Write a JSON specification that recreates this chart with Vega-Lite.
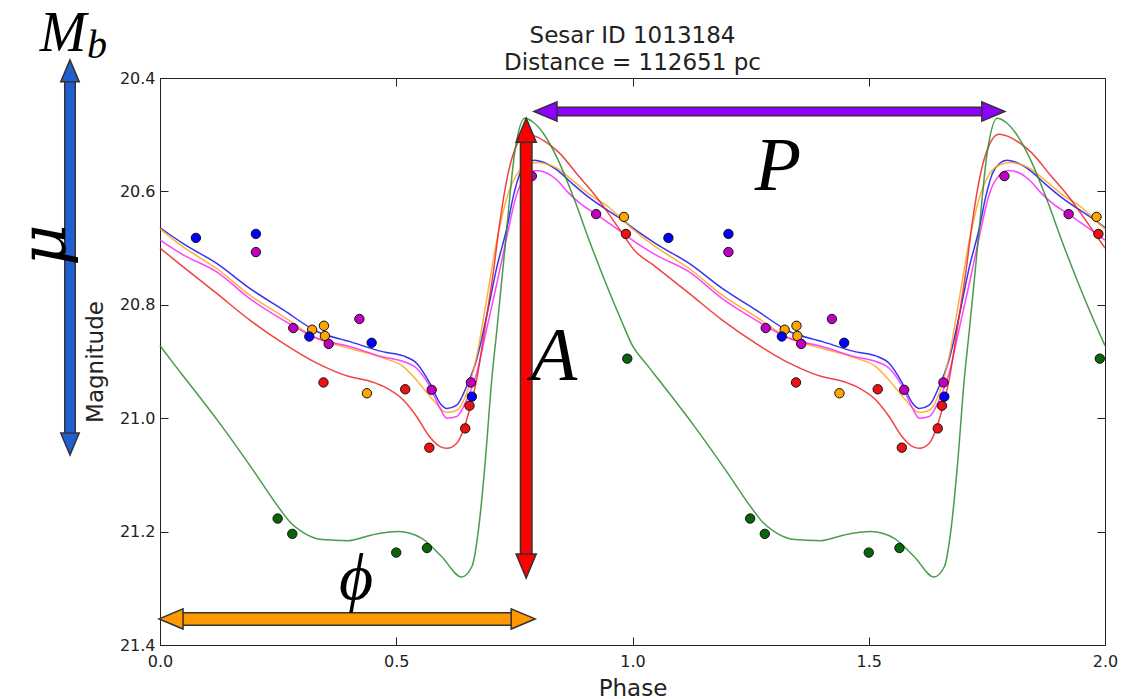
{
  "$schema": "https://vega.github.io/schema/vega-lite/v6.json",
  "width": 945,
  "height": 567,
  "autosize": "none",
  "padding": {"left": 160, "top": 78, "right": 17, "bottom": 54},
  "background": "white",
  "config": {"view": {"stroke": null}},
  "datasets": {
    "curves": [
      {"s":"b","p":0,"m":20.664},{"s":"b","p":0.049,"m":20.692},{"s":"b","p":0.12,"m":20.727},{"s":"b","p":0.19,"m":20.771},{"s":"b","p":0.261,"m":20.809},{"s":"b","p":0.332,"m":20.847},{"s":"b","p":0.402,"m":20.865},{"s":"b","p":0.473,"m":20.883},{"s":"b","p":0.515,"m":20.89},{"s":"b","p":0.543,"m":20.903},{"s":"b","p":0.571,"m":20.938},{"s":"b","p":0.593,"m":20.974},{"s":"b","p":0.607,"m":20.983},{"s":"b","p":0.628,"m":20.977},{"s":"b","p":0.649,"m":20.944},{"s":"b","p":0.67,"m":20.897},{"s":"b","p":0.691,"m":20.821},{"s":"b","p":0.713,"m":20.733},{"s":"b","p":0.734,"m":20.665},{"s":"b","p":0.748,"m":20.608},{"s":"b","p":0.762,"m":20.568},{"s":"b","p":0.778,"m":20.55},{"s":"b","p":0.792,"m":20.545},{"s":"b","p":0.81,"m":20.548},{"s":"b","p":0.84,"m":20.562},{"s":"b","p":0.875,"m":20.588},{"s":"b","p":0.91,"m":20.612},{"s":"b","p":0.95,"m":20.635},{"s":"b","p":0.981,"m":20.652},
      {"s":"b","p":1,"m":20.664},{"s":"b","p":1.049,"m":20.692},{"s":"b","p":1.12,"m":20.727},{"s":"b","p":1.19,"m":20.771},{"s":"b","p":1.261,"m":20.809},{"s":"b","p":1.332,"m":20.847},{"s":"b","p":1.402,"m":20.865},{"s":"b","p":1.473,"m":20.883},{"s":"b","p":1.515,"m":20.89},{"s":"b","p":1.543,"m":20.903},{"s":"b","p":1.571,"m":20.938},{"s":"b","p":1.593,"m":20.974},{"s":"b","p":1.607,"m":20.983},{"s":"b","p":1.628,"m":20.977},{"s":"b","p":1.649,"m":20.944},{"s":"b","p":1.67,"m":20.897},{"s":"b","p":1.691,"m":20.821},{"s":"b","p":1.713,"m":20.733},{"s":"b","p":1.734,"m":20.665},{"s":"b","p":1.748,"m":20.608},{"s":"b","p":1.762,"m":20.568},{"s":"b","p":1.778,"m":20.55},{"s":"b","p":1.792,"m":20.545},{"s":"b","p":1.81,"m":20.548},{"s":"b","p":1.84,"m":20.562},{"s":"b","p":1.875,"m":20.588},{"s":"b","p":1.91,"m":20.612},{"s":"b","p":1.95,"m":20.635},{"s":"b","p":1.981,"m":20.652},{"s":"b","p":2,"m":20.664},

      {"s":"o","p":0,"m":20.666},{"s":"o","p":0.049,"m":20.698},{"s":"o","p":0.12,"m":20.736},{"s":"o","p":0.19,"m":20.783},{"s":"o","p":0.261,"m":20.821},{"s":"o","p":0.332,"m":20.859},{"s":"o","p":0.402,"m":20.877},{"s":"o","p":0.473,"m":20.894},{"s":"o","p":0.515,"m":20.909},{"s":"o","p":0.543,"m":20.933},{"s":"o","p":0.578,"m":20.968},{"s":"o","p":0.607,"m":20.99},{"s":"o","p":0.628,"m":20.986},{"s":"o","p":0.649,"m":20.956},{"s":"o","p":0.67,"m":20.892},{"s":"o","p":0.691,"m":20.792},{"s":"o","p":0.713,"m":20.686},{"s":"o","p":0.734,"m":20.612},{"s":"o","p":0.755,"m":20.57},{"s":"o","p":0.778,"m":20.553},{"s":"o","p":0.8,"m":20.549},{"s":"o","p":0.82,"m":20.552},{"s":"o","p":0.84,"m":20.559},{"s":"o","p":0.875,"m":20.582},{"s":"o","p":0.91,"m":20.606},{"s":"o","p":0.95,"m":20.628},{"s":"o","p":0.981,"m":20.652},
      {"s":"o","p":1,"m":20.666},{"s":"o","p":1.049,"m":20.698},{"s":"o","p":1.12,"m":20.736},{"s":"o","p":1.19,"m":20.783},{"s":"o","p":1.261,"m":20.821},{"s":"o","p":1.332,"m":20.859},{"s":"o","p":1.402,"m":20.877},{"s":"o","p":1.473,"m":20.894},{"s":"o","p":1.515,"m":20.909},{"s":"o","p":1.543,"m":20.933},{"s":"o","p":1.578,"m":20.968},{"s":"o","p":1.607,"m":20.99},{"s":"o","p":1.628,"m":20.986},{"s":"o","p":1.649,"m":20.956},{"s":"o","p":1.67,"m":20.892},{"s":"o","p":1.691,"m":20.792},{"s":"o","p":1.713,"m":20.686},{"s":"o","p":1.734,"m":20.612},{"s":"o","p":1.755,"m":20.57},{"s":"o","p":1.778,"m":20.553},{"s":"o","p":1.8,"m":20.549},{"s":"o","p":1.82,"m":20.552},{"s":"o","p":1.84,"m":20.559},{"s":"o","p":1.875,"m":20.582},{"s":"o","p":1.91,"m":20.606},{"s":"o","p":1.95,"m":20.628},{"s":"o","p":1.981,"m":20.652},{"s":"o","p":2,"m":20.666},

      {"s":"m","p":0,"m":20.686},{"s":"m","p":0.049,"m":20.712},{"s":"m","p":0.12,"m":20.742},{"s":"m","p":0.19,"m":20.789},{"s":"m","p":0.261,"m":20.827},{"s":"m","p":0.332,"m":20.859},{"s":"m","p":0.402,"m":20.874},{"s":"m","p":0.473,"m":20.892},{"s":"m","p":0.515,"m":20.9},{"s":"m","p":0.543,"m":20.912},{"s":"m","p":0.571,"m":20.944},{"s":"m","p":0.593,"m":20.983},{"s":"m","p":0.607,"m":21.0},{"s":"m","p":0.628,"m":20.997},{"s":"m","p":0.649,"m":20.968},{"s":"m","p":0.67,"m":20.921},{"s":"m","p":0.691,"m":20.844},{"s":"m","p":0.713,"m":20.762},{"s":"m","p":0.734,"m":20.68},{"s":"m","p":0.755,"m":20.605},{"s":"m","p":0.776,"m":20.572},{"s":"m","p":0.797,"m":20.563},{"s":"m","p":0.82,"m":20.568},{"s":"m","p":0.84,"m":20.58},{"s":"m","p":0.865,"m":20.603},{"s":"m","p":0.889,"m":20.621},{"s":"m","p":0.924,"m":20.641},{"s":"m","p":0.95,"m":20.656},{"s":"m","p":0.981,"m":20.674},
      {"s":"m","p":1,"m":20.686},{"s":"m","p":1.049,"m":20.712},{"s":"m","p":1.12,"m":20.742},{"s":"m","p":1.19,"m":20.789},{"s":"m","p":1.261,"m":20.827},{"s":"m","p":1.332,"m":20.859},{"s":"m","p":1.402,"m":20.874},{"s":"m","p":1.473,"m":20.892},{"s":"m","p":1.515,"m":20.9},{"s":"m","p":1.543,"m":20.912},{"s":"m","p":1.571,"m":20.944},{"s":"m","p":1.593,"m":20.983},{"s":"m","p":1.607,"m":21.0},{"s":"m","p":1.628,"m":20.997},{"s":"m","p":1.649,"m":20.968},{"s":"m","p":1.67,"m":20.921},{"s":"m","p":1.691,"m":20.844},{"s":"m","p":1.713,"m":20.762},{"s":"m","p":1.734,"m":20.68},{"s":"m","p":1.755,"m":20.605},{"s":"m","p":1.776,"m":20.572},{"s":"m","p":1.797,"m":20.563},{"s":"m","p":1.82,"m":20.568},{"s":"m","p":1.84,"m":20.58},{"s":"m","p":1.865,"m":20.603},{"s":"m","p":1.889,"m":20.621},{"s":"m","p":1.924,"m":20.641},{"s":"m","p":1.95,"m":20.656},{"s":"m","p":1.981,"m":20.674},{"s":"m","p":2,"m":20.686},

      {"s":"r","p":0,"m":20.7},{"s":"r","p":0.049,"m":20.733},{"s":"r","p":0.12,"m":20.78},{"s":"r","p":0.19,"m":20.827},{"s":"r","p":0.261,"m":20.868},{"s":"r","p":0.332,"m":20.903},{"s":"r","p":0.402,"m":20.927},{"s":"r","p":0.437,"m":20.933},{"s":"r","p":0.473,"m":20.944},{"s":"r","p":0.515,"m":20.968},{"s":"r","p":0.543,"m":20.997},{"s":"r","p":0.571,"m":21.033},{"s":"r","p":0.593,"m":21.05},{"s":"r","p":0.607,"m":21.053},{"s":"r","p":0.628,"m":21.044},{"s":"r","p":0.649,"m":21.003},{"s":"r","p":0.67,"m":20.933},{"s":"r","p":0.691,"m":20.822},{"s":"r","p":0.705,"m":20.745},{"s":"r","p":0.72,"m":20.65},{"s":"r","p":0.735,"m":20.575},{"s":"r","p":0.755,"m":20.518},{"s":"r","p":0.775,"m":20.499},{"s":"r","p":0.795,"m":20.503},{"s":"r","p":0.82,"m":20.515},{"s":"r","p":0.845,"m":20.532},{"s":"r","p":0.885,"m":20.572},{"s":"r","p":0.919,"m":20.605},{"s":"r","p":0.95,"m":20.64},{"s":"r","p":0.985,"m":20.682},
      {"s":"r","p":1,"m":20.7},{"s":"r","p":1.049,"m":20.733},{"s":"r","p":1.12,"m":20.78},{"s":"r","p":1.19,"m":20.827},{"s":"r","p":1.261,"m":20.868},{"s":"r","p":1.332,"m":20.903},{"s":"r","p":1.402,"m":20.927},{"s":"r","p":1.437,"m":20.933},{"s":"r","p":1.473,"m":20.944},{"s":"r","p":1.515,"m":20.968},{"s":"r","p":1.543,"m":20.997},{"s":"r","p":1.571,"m":21.033},{"s":"r","p":1.593,"m":21.05},{"s":"r","p":1.607,"m":21.053},{"s":"r","p":1.628,"m":21.044},{"s":"r","p":1.649,"m":21.003},{"s":"r","p":1.67,"m":20.933},{"s":"r","p":1.691,"m":20.822},{"s":"r","p":1.705,"m":20.745},{"s":"r","p":1.72,"m":20.65},{"s":"r","p":1.735,"m":20.575},{"s":"r","p":1.755,"m":20.518},{"s":"r","p":1.775,"m":20.499},{"s":"r","p":1.795,"m":20.503},{"s":"r","p":1.82,"m":20.515},{"s":"r","p":1.845,"m":20.532},{"s":"r","p":1.885,"m":20.572},{"s":"r","p":1.919,"m":20.605},{"s":"r","p":1.95,"m":20.64},{"s":"r","p":1.985,"m":20.682},{"s":"r","p":2,"m":20.7},

      {"s":"g","p":0,"m":20.872},{"s":"g","p":0.03,"m":20.905},{"s":"g","p":0.06,"m":20.937},{"s":"g","p":0.13,"m":21.013},{"s":"g","p":0.2,"m":21.095},{"s":"g","p":0.25,"m":21.156},{"s":"g","p":0.275,"m":21.183},{"s":"g","p":0.3,"m":21.2},{"s":"g","p":0.342,"m":21.214},{"s":"g","p":0.399,"m":21.216},{"s":"g","p":0.448,"m":21.206},{"s":"g","p":0.504,"m":21.2},{"s":"g","p":0.554,"m":21.212},{"s":"g","p":0.596,"m":21.244},{"s":"g","p":0.638,"m":21.28},{"s":"g","p":0.66,"m":21.262},{"s":"g","p":0.674,"m":21.197},{"s":"g","p":0.688,"m":21.08},{"s":"g","p":0.702,"m":20.933},{"s":"g","p":0.713,"m":20.844},{"s":"g","p":0.73,"m":20.7},{"s":"g","p":0.751,"m":20.53},{"s":"g","p":0.772,"m":20.471},{"s":"g","p":0.79,"m":20.478},{"s":"g","p":0.81,"m":20.496},{"s":"g","p":0.84,"m":20.54},{"s":"g","p":0.875,"m":20.61},{"s":"g","p":0.91,"m":20.69},{"s":"g","p":0.945,"m":20.765},{"s":"g","p":0.975,"m":20.825},
      {"s":"g","p":1,"m":20.872},{"s":"g","p":1.03,"m":20.905},{"s":"g","p":1.06,"m":20.937},{"s":"g","p":1.13,"m":21.013},{"s":"g","p":1.2,"m":21.095},{"s":"g","p":1.25,"m":21.156},{"s":"g","p":1.275,"m":21.183},{"s":"g","p":1.3,"m":21.2},{"s":"g","p":1.342,"m":21.214},{"s":"g","p":1.399,"m":21.216},{"s":"g","p":1.448,"m":21.206},{"s":"g","p":1.504,"m":21.2},{"s":"g","p":1.554,"m":21.212},{"s":"g","p":1.596,"m":21.244},{"s":"g","p":1.638,"m":21.28},{"s":"g","p":1.66,"m":21.262},{"s":"g","p":1.674,"m":21.197},{"s":"g","p":1.688,"m":21.08},{"s":"g","p":1.702,"m":20.933},{"s":"g","p":1.713,"m":20.844},{"s":"g","p":1.73,"m":20.7},{"s":"g","p":1.751,"m":20.53},{"s":"g","p":1.772,"m":20.471},{"s":"g","p":1.79,"m":20.478},{"s":"g","p":1.81,"m":20.496},{"s":"g","p":1.84,"m":20.54},{"s":"g","p":1.875,"m":20.61},{"s":"g","p":1.91,"m":20.69},{"s":"g","p":1.945,"m":20.765},{"s":"g","p":1.975,"m":20.825},{"s":"g","p":2,"m":20.872}
    ],
    "obs": [
      {"s":"g","p":0.249,"m":21.177},{"s":"g","p":0.28,"m":21.204},{"s":"g","p":0.5,"m":21.237},{"s":"g","p":0.565,"m":21.229},{"s":"g","p":0.989,"m":20.895},
      {"s":"g","p":1.249,"m":21.177},{"s":"g","p":1.28,"m":21.204},{"s":"g","p":1.5,"m":21.237},{"s":"g","p":1.565,"m":21.229},{"s":"g","p":1.989,"m":20.895},
      {"s":"r","p":0.346,"m":20.937},{"s":"r","p":0.519,"m":20.949},{"s":"r","p":0.57,"m":21.052},{"s":"r","p":0.646,"m":21.018},{"s":"r","p":0.655,"m":20.978},{"s":"r","p":0.986,"m":20.675},
      {"s":"r","p":1.346,"m":20.937},{"s":"r","p":1.519,"m":20.949},{"s":"r","p":1.57,"m":21.052},{"s":"r","p":1.646,"m":21.018},{"s":"r","p":1.655,"m":20.978},{"s":"r","p":1.986,"m":20.675},
      {"s":"o","p":0.322,"m":20.844},{"s":"o","p":0.347,"m":20.837},{"s":"o","p":0.349,"m":20.855},{"s":"o","p":0.438,"m":20.956},{"s":"o","p":0.982,"m":20.645},
      {"s":"o","p":1.322,"m":20.844},{"s":"o","p":1.347,"m":20.837},{"s":"o","p":1.349,"m":20.855},{"s":"o","p":1.438,"m":20.956},{"s":"o","p":1.982,"m":20.645},
      {"s":"b","p":0.076,"m":20.682},{"s":"b","p":0.203,"m":20.675},{"s":"b","p":0.316,"m":20.856},{"s":"b","p":0.448,"m":20.867},{"s":"b","p":0.66,"m":20.962},
      {"s":"b","p":1.076,"m":20.682},{"s":"b","p":1.203,"m":20.675},{"s":"b","p":1.316,"m":20.856},{"s":"b","p":1.448,"m":20.867},{"s":"b","p":1.66,"m":20.962},
      {"s":"m","p":0.203,"m":20.707},{"s":"m","p":0.282,"m":20.841},{"s":"m","p":0.422,"m":20.825},{"s":"m","p":0.658,"m":20.937},{"s":"m","p":0.575,"m":20.95},{"s":"m","p":0.357,"m":20.869},{"s":"m","p":0.787,"m":20.573},{"s":"m","p":0.923,"m":20.64},
      {"s":"m","p":1.203,"m":20.707},{"s":"m","p":1.282,"m":20.841},{"s":"m","p":1.422,"m":20.825},{"s":"m","p":1.658,"m":20.937},{"s":"m","p":1.575,"m":20.95},{"s":"m","p":1.357,"m":20.869},{"s":"m","p":1.787,"m":20.573},{"s":"m","p":1.923,"m":20.64}
    ],
    "shafts": [
      {"a":"Mb","x1":-0.1905,"x2":-0.1905,"y1":20.4,"y2":21.033},
      {"a":"A","x1":0.775,"x2":0.775,"y1":20.505,"y2":21.248},
      {"a":"P","x1":0.832,"x2":1.747,"y1":20.459,"y2":20.459},
      {"a":"phi","x1":0.04,"x2":0.752,"y1":21.354,"y2":21.354}
    ],
    "heads": [
      {"a":"Mb","d":"up","x":-0.1905,"y":20.368},{"a":"Mb","d":"down","x":-0.1905,"y":21.065},
      {"a":"A","d":"up","x":0.775,"y":20.471},{"a":"A","d":"down","x":0.775,"y":21.282},
      {"a":"P","d":"left","x":0.7915,"y":20.459},{"a":"P","d":"right","x":1.788,"y":20.459},
      {"a":"phi","d":"left","x":-0.002,"y":21.354},{"a":"phi","d":"right","x":0.794,"y":21.354}
    ],
    "labels": [
      {"k":"M","t":"M","x":-0.2053,"y":20.352},
      {"k":"b","t":"b","x":-0.1333,"y":20.3647},
      {"k":"A","t":"A","x":0.834,"y":20.9326},
      {"k":"P","t":"P","x":1.308,"y":20.5975},
      {"k":"phi","t":"ϕ","x":0.4148,"y":21.318},
      {"k":"mu","t":"μ","x":-0.2413,"y":20.6945}
    ],
    "titles": [
      {"t":"Sesar ID 1013184","x":1.0,"y":20.3377},
      {"t":"Distance = 112651 pc","x":1.0,"y":20.3859}
    ]
  },
  "resolve": {
    "axis": {"x": "independent", "y": "independent"},
    "scale": {"color": "independent", "fill": "independent", "shape": "independent"}
  },
  "layer": [
    {
      "data": {"name": "curves"},
      "mark": {"type": "line", "strokeWidth": 1.5, "interpolate": "monotone", "opacity": 0.85},
      "encoding": {
        "x": {"field": "p", "type": "quantitative", "scale": {"domain": [0, 2], "nice": false, "zero": false},
              "axis": {"orient": "bottom", "values": [0, 0.5, 1, 1.5, 2], "format": ".1f", "grid": false, "tickSize": -8, "tickColor": "#222", "domainColor": "#222", "labelColor": "#222", "labelFont": "DejaVu Sans", "labelFontSize": 16, "labelPadding": 16, "labelFlush": false, "title": "Phase", "titleFont": "DejaVu Sans", "titleFontSize": 23, "titleFontWeight": "normal", "titleColor": "#222", "titlePadding": 8}},
        "y": {"field": "m", "type": "quantitative", "scale": {"domain": [20.4, 21.4], "reverse": true, "nice": false, "zero": false},
              "axis": {"orient": "left", "values": [20.4, 20.6, 20.8, 21.0, 21.2, 21.4], "format": ".1f", "grid": false, "tickSize": -8, "tickColor": "#222", "domainColor": "#222", "labelColor": "#222", "labelFont": "DejaVu Sans", "labelFontSize": 16, "labelPadding": 13, "labelFlush": false, "title": "Magnitude", "titleFont": "DejaVu Sans", "titleFontSize": 23, "titleFontWeight": "normal", "titleColor": "#222", "titlePadding": 12}},
        "color": {"field": "s", "type": "nominal", "legend": null, "scale": {"domain": ["b", "o", "m", "r", "g"], "range": ["#1010ee", "#ffa31a", "#ff22ff", "#ee2222", "#2a8a2a"]}}
      }
    },
    {
      "data": {"name": "obs"},
      "mark": {"type": "circle", "size": 88, "stroke": "#111", "strokeWidth": 1, "opacity": 1},
      "encoding": {
        "x": {"field": "p", "type": "quantitative", "scale": {"domain": [0, 2], "nice": false, "zero": false},
              "axis": {"orient": "top", "values": [0, 0.5, 1, 1.5, 2], "labels": false, "grid": false, "tickSize": -8, "tickColor": "#222", "domainColor": "#222", "title": null}},
        "y": {"field": "m", "type": "quantitative", "scale": {"domain": [20.4, 21.4], "reverse": true, "nice": false, "zero": false},
              "axis": {"orient": "right", "values": [20.4, 20.6, 20.8, 21.0, 21.2, 21.4], "labels": false, "grid": false, "tickSize": -8, "tickColor": "#222", "domainColor": "#222", "title": null}},
        "fill": {"field": "s", "type": "nominal", "legend": null, "scale": {"domain": ["b", "o", "m", "r", "g"], "range": ["#0000ff", "#ffa500", "#c000c0", "#ee1111", "#0a640a"]}}
      }
    },
    {
      "data": {"name": "shafts"},
      "transform": [{"filter": "datum.a == 'Mb'"}],
      "mark": {"type": "rule", "stroke": "#333333", "strokeCap": "butt", "strokeWidth": 12},
      "encoding": {"x": {"field": "x1", "type": "quantitative", "axis": null}, "x2": {"field": "x2"}, "y": {"field": "y1", "type": "quantitative", "axis": null}, "y2": {"field": "y2"}}
    },
    {
      "data": {"name": "shafts"},
      "transform": [{"filter": "datum.a == 'Mb'"}],
      "mark": {"type": "rule", "stroke": "#1f5fd0", "strokeCap": "butt", "strokeWidth": 9},
      "encoding": {"x": {"field": "x1", "type": "quantitative", "axis": null}, "x2": {"field": "x2"}, "y": {"field": "y1", "type": "quantitative", "axis": null}, "y2": {"field": "y2"}}
    },
    {
      "data": {"name": "heads"},
      "transform": [{"filter": "datum.a == 'Mb'"}],
      "mark": {"type": "point", "filled": true, "fill": "#1f5fd0", "stroke": "#333333", "strokeWidth": 1.5, "opacity": 1, "size": 1936},
      "encoding": {
        "x": {"field": "x", "type": "quantitative", "axis": null}, "y": {"field": "y", "type": "quantitative", "axis": null},
        "shape": {"field": "d", "type": "nominal", "legend": null, "scale": {"domain": ["up", "down", "left", "right"], "range": ["M0,0 L-0.42,1 L0.42,1 Z", "M0,0 L-0.42,-1 L0.42,-1 Z", "M0,0 L1,-0.42 L1,0.42 Z", "M0,0 L-1,-0.42 L-1,0.42 Z"]}}
      }
    },
    {
      "data": {"name": "shafts"},
      "transform": [{"filter": "datum.a == 'A'"}],
      "mark": {"type": "rule", "stroke": "#333333", "strokeCap": "butt", "strokeWidth": 13},
      "encoding": {"x": {"field": "x1", "type": "quantitative", "axis": null}, "x2": {"field": "x2"}, "y": {"field": "y1", "type": "quantitative", "axis": null}, "y2": {"field": "y2"}}
    },
    {
      "data": {"name": "shafts"},
      "transform": [{"filter": "datum.a == 'A'"}],
      "mark": {"type": "rule", "stroke": "#ff0000", "strokeCap": "butt", "strokeWidth": 10},
      "encoding": {"x": {"field": "x1", "type": "quantitative", "axis": null}, "x2": {"field": "x2"}, "y": {"field": "y1", "type": "quantitative", "axis": null}, "y2": {"field": "y2"}}
    },
    {
      "data": {"name": "heads"},
      "transform": [{"filter": "datum.a == 'A'"}],
      "mark": {"type": "point", "filled": true, "fill": "#ff0000", "stroke": "#333333", "strokeWidth": 1.5, "opacity": 1, "size": 2304},
      "encoding": {
        "x": {"field": "x", "type": "quantitative", "axis": null}, "y": {"field": "y", "type": "quantitative", "axis": null},
        "shape": {"field": "d", "type": "nominal", "legend": null, "scale": {"domain": ["up", "down", "left", "right"], "range": ["M0,0 L-0.42,1 L0.42,1 Z", "M0,0 L-0.42,-1 L0.42,-1 Z", "M0,0 L1,-0.42 L1,0.42 Z", "M0,0 L-1,-0.42 L-1,0.42 Z"]}}
      }
    },
    {
      "data": {"name": "shafts"},
      "transform": [{"filter": "datum.a == 'P'"}],
      "mark": {"type": "rule", "stroke": "#333333", "strokeCap": "butt", "strokeWidth": 10},
      "encoding": {"x": {"field": "x1", "type": "quantitative", "axis": null}, "x2": {"field": "x2"}, "y": {"field": "y1", "type": "quantitative", "axis": null}, "y2": {"field": "y2"}}
    },
    {
      "data": {"name": "shafts"},
      "transform": [{"filter": "datum.a == 'P'"}],
      "mark": {"type": "rule", "stroke": "#9000ff", "strokeCap": "butt", "strokeWidth": 7},
      "encoding": {"x": {"field": "x1", "type": "quantitative", "axis": null}, "x2": {"field": "x2"}, "y": {"field": "y1", "type": "quantitative", "axis": null}, "y2": {"field": "y2"}}
    },
    {
      "data": {"name": "heads"},
      "transform": [{"filter": "datum.a == 'P'"}],
      "mark": {"type": "point", "filled": true, "fill": "#9000ff", "stroke": "#333333", "strokeWidth": 1.5, "opacity": 1, "size": 2116},
      "encoding": {
        "x": {"field": "x", "type": "quantitative", "axis": null}, "y": {"field": "y", "type": "quantitative", "axis": null},
        "shape": {"field": "d", "type": "nominal", "legend": null, "scale": {"domain": ["up", "down", "left", "right"], "range": ["M0,0 L-0.42,1 L0.42,1 Z", "M0,0 L-0.42,-1 L0.42,-1 Z", "M0,0 L1,-0.42 L1,0.42 Z", "M0,0 L-1,-0.42 L-1,0.42 Z"]}}
      }
    },
    {
      "data": {"name": "shafts"},
      "transform": [{"filter": "datum.a == 'phi'"}],
      "mark": {"type": "rule", "stroke": "#333333", "strokeCap": "butt", "strokeWidth": 14},
      "encoding": {"x": {"field": "x1", "type": "quantitative", "axis": null}, "x2": {"field": "x2"}, "y": {"field": "y1", "type": "quantitative", "axis": null}, "y2": {"field": "y2"}}
    },
    {
      "data": {"name": "shafts"},
      "transform": [{"filter": "datum.a == 'phi'"}],
      "mark": {"type": "rule", "stroke": "#ff9900", "strokeCap": "butt", "strokeWidth": 11},
      "encoding": {"x": {"field": "x1", "type": "quantitative", "axis": null}, "x2": {"field": "x2"}, "y": {"field": "y1", "type": "quantitative", "axis": null}, "y2": {"field": "y2"}}
    },
    {
      "data": {"name": "heads"},
      "transform": [{"filter": "datum.a == 'phi'"}],
      "mark": {"type": "point", "filled": true, "fill": "#ff9900", "stroke": "#333333", "strokeWidth": 1.5, "opacity": 1, "size": 2304},
      "encoding": {
        "x": {"field": "x", "type": "quantitative", "axis": null}, "y": {"field": "y", "type": "quantitative", "axis": null},
        "shape": {"field": "d", "type": "nominal", "legend": null, "scale": {"domain": ["up", "down", "left", "right"], "range": ["M0,0 L-0.42,1 L0.42,1 Z", "M0,0 L-0.42,-1 L0.42,-1 Z", "M0,0 L1,-0.42 L1,0.42 Z", "M0,0 L-1,-0.42 L-1,0.42 Z"]}}
      }
    },
    {
      "data": {"name": "labels"},
      "transform": [{"filter": "datum.k == 'M'"}],
      "mark": {"type": "text", "font": "Liberation Serif", "fontStyle": "italic", "align": "center", "baseline": "alphabetic", "color": "black", "fontSize": 56},
      "encoding": {"x": {"field": "x", "type": "quantitative", "axis": null}, "y": {"field": "y", "type": "quantitative", "axis": null}, "text": {"field": "t"}}
    },
    {
      "data": {"name": "labels"},
      "transform": [{"filter": "datum.k == 'b'"}],
      "mark": {"type": "text", "font": "Liberation Serif", "fontStyle": "italic", "align": "center", "baseline": "alphabetic", "color": "black", "fontSize": 40},
      "encoding": {"x": {"field": "x", "type": "quantitative", "axis": null}, "y": {"field": "y", "type": "quantitative", "axis": null}, "text": {"field": "t"}}
    },
    {
      "data": {"name": "labels"},
      "transform": [{"filter": "datum.k == 'A' || datum.k == 'P'"}],
      "mark": {"type": "text", "font": "Liberation Serif", "fontStyle": "italic", "align": "center", "baseline": "alphabetic", "color": "black", "fontSize": 76},
      "encoding": {"x": {"field": "x", "type": "quantitative", "axis": null}, "y": {"field": "y", "type": "quantitative", "axis": null}, "text": {"field": "t"}}
    },
    {
      "data": {"name": "labels"},
      "transform": [{"filter": "datum.k == 'phi'"}],
      "mark": {"type": "text", "font": "Liberation Serif", "fontStyle": "italic", "align": "center", "baseline": "alphabetic", "color": "black", "fontSize": 66},
      "encoding": {"x": {"field": "x", "type": "quantitative", "axis": null}, "y": {"field": "y", "type": "quantitative", "axis": null}, "text": {"field": "t"}}
    },
    {
      "data": {"name": "labels"},
      "transform": [{"filter": "datum.k == 'mu'"}],
      "mark": {"type": "text", "font": "DejaVu Serif", "fontStyle": "italic", "align": "center", "baseline": "middle", "angle": 270, "color": "black", "fontSize": 64},
      "encoding": {"x": {"field": "x", "type": "quantitative", "axis": null}, "y": {"field": "y", "type": "quantitative", "axis": null}, "text": {"field": "t"}}
    },
    {
      "data": {"name": "titles"},
      "mark": {"type": "text", "font": "DejaVu Sans", "align": "center", "baseline": "alphabetic", "color": "#222222", "fontSize": 23},
      "encoding": {"x": {"field": "x", "type": "quantitative", "axis": null}, "y": {"field": "y", "type": "quantitative", "axis": null}, "text": {"field": "t"}}
    }
  ]
}
